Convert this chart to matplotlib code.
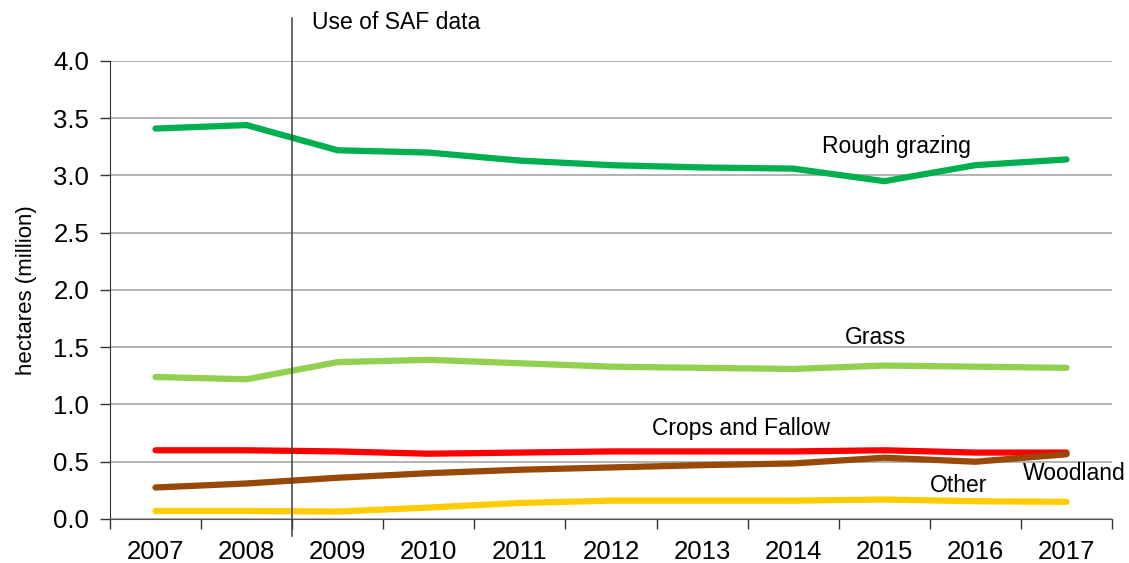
import matplotlib
matplotlib.use("Agg")
import matplotlib.pyplot as plt
import numpy as np

plt.rcParams['font.family'] = ['Liberation Sans', 'DejaVu Sans']

years = ["2007", "2008", "2009", "2010", "2011", "2012", "2013", "2014", "2015", "2016", "2017"]
rough_grazing = [3.41, 3.44, 3.22, 3.20, 3.13, 3.09, 3.07, 3.06, 2.95, 3.09, 3.14]
grass = [1.24, 1.22, 1.37, 1.39, 1.36, 1.33, 1.32, 1.31, 1.34, 1.33, 1.32]
crops_fallow = [0.60, 0.60, 0.59, 0.57, 0.58, 0.59, 0.59, 0.59, 0.60, 0.58, 0.58]
woodland = [0.275, 0.31, 0.36, 0.40, 0.43, 0.45, 0.47, 0.485, 0.535, 0.50, 0.565]
other = [0.07, 0.07, 0.065, 0.10, 0.14, 0.16, 0.16, 0.16, 0.17, 0.155, 0.15]

fig = plt.figure(figsize=(11.29, 5.63), dpi=100)
ax = fig.add_axes([0.0974, 0.0782, 0.8876, 0.8135])

x = np.arange(len(years))
lw = 4.5
ax.plot(x, rough_grazing, color="#00b050", lw=lw, solid_capstyle="round", zorder=3)
ax.plot(x, grass, color="#92d050", lw=lw, solid_capstyle="round", zorder=3)
ax.plot(x, woodland, color="#984807", lw=lw, solid_capstyle="round", zorder=3)
ax.plot(x, crops_fallow, color="#ff0000", lw=lw, solid_capstyle="round", zorder=2.9)
ax.plot(x, other, color="#ffcc00", lw=lw, solid_capstyle="round", zorder=3)

ax.set_xlim(-0.5, len(years) - 0.5)
ax.set_ylim(0, 4.0)
ax.set_yticks(np.arange(0, 4.01, 0.5))
ax.set_yticklabels([f"{v:.1f}" for v in np.arange(0, 4.01, 0.5)])
ax.set_xticks(x)
ax.set_xticklabels(years)
ax.set_xticks(np.arange(-0.5, len(years), 1.0), minor=True)
ax.tick_params(axis="x", which="major", length=0, pad=15, labelsize=18.5)
ax.tick_params(axis="x", which="minor", length=7, width=1, color="#333333")
ax.tick_params(axis="y", length=7, width=1, color="#333333", labelsize=18.5, pad=8)

ax.grid(axis="y", color="#a6a6a6", lw=1.2, zorder=0)
for side in ("top", "right"):
    ax.spines[side].set_visible(False)
ax.spines["left"].set_color("#333333")
ax.spines["bottom"].set_color("#555555")

ax.set_ylabel("hectares (million)", fontsize=16, labelpad=12)

# SAF data marker line
ax.plot([1.5, 1.5], [-0.037, 1.094], transform=ax.get_xaxis_transform(),
        color="#404040", lw=1.1, clip_on=False, zorder=4)
ax.text(1.72, 1.083, "Use of SAF data", transform=ax.get_xaxis_transform(),
        fontsize=16.5, va="center", ha="left")

ax.text(8.13, 3.255, "Rough grazing", fontsize=16.5, ha="center", va="center")
ax.text(7.9, 1.585, "Grass", fontsize=16.5, ha="center", va="center")
ax.text(6.43, 0.79, "Crops and Fallow", fontsize=16.5, ha="center", va="center")
ax.text(10.09, 0.395, "Woodland", fontsize=16.5, ha="center", va="center")
ax.text(8.82, 0.295, "Other", fontsize=16.5, ha="center", va="center")

fig.savefig("out.png", dpi=100)
